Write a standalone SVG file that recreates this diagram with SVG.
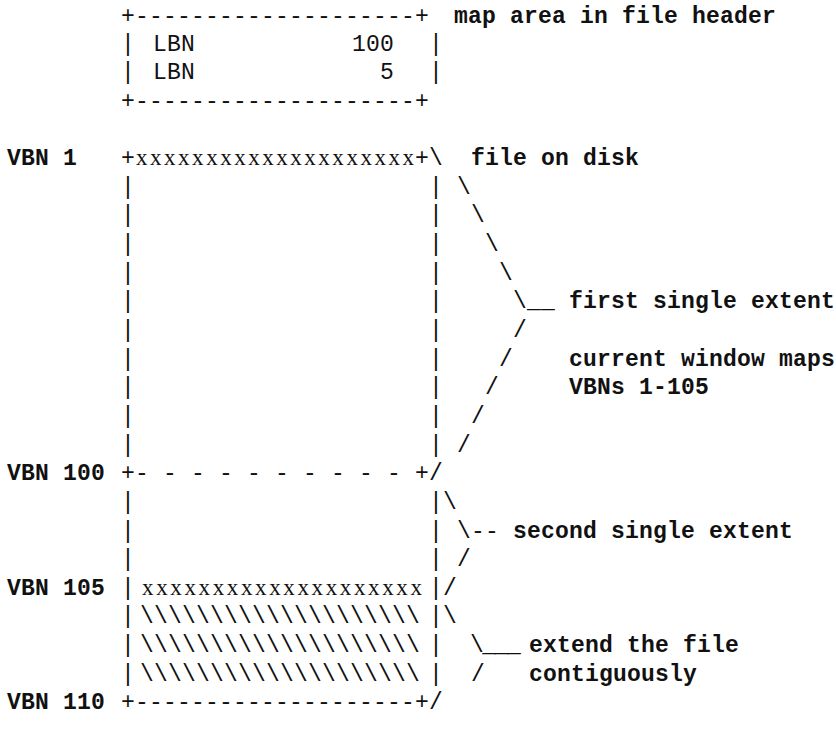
<svg xmlns="http://www.w3.org/2000/svg" width="836" height="748" viewBox="0 0 836 748">
<style>
text { font-family: "Liberation Mono", "DejaVu Sans Mono", monospace; font-size: 23px; letter-spacing: 0.2px; fill: #111; white-space: pre; }
.b { font-weight: bold; }
.xs { font-family: "Liberation Serif", "DejaVu Serif", serif; letter-spacing: 0; }
</style>
<rect width="836" height="748" fill="#fff"/>
<g id="map-area">
  <text x="121" y="22.5">+--------------------+</text>
  <text x="121" y="51">|</text><text x="153" y="51">LBN</text><text x="352" y="51">100</text><text x="429" y="51">|</text>
  <text x="121" y="79.1">|</text><text x="153" y="79.1">LBN</text><text x="380" y="79.1">5</text><text x="429" y="79.1">|</text>
  <text x="121" y="107.7">+--------------------+</text>
  <text class="b" x="454" y="22.5">map area in file header</text>
</g>
<g id="file-box">
  <text x="121" y="165">+</text><text class="xs" x="136" y="165" textLength="278" lengthAdjust="spacing">xxxxxxxxxxxxxxxxxxxx</text><text x="415" y="165">+</text>
  <text x="121" y="193.7">|</text><text x="429" y="193.7">|</text>
  <text x="121" y="222.3">|</text><text x="429" y="222.3">|</text>
  <text x="121" y="251">|</text><text x="429" y="251">|</text>
  <text x="121" y="279.6">|</text><text x="429" y="279.6">|</text>
  <text x="121" y="308.3">|</text><text x="429" y="308.3">|</text>
  <text x="121" y="336.9">|</text><text x="429" y="336.9">|</text>
  <text x="121" y="365.6">|</text><text x="429" y="365.6">|</text>
  <text x="121" y="394.2">|</text><text x="429" y="394.2">|</text>
  <text x="121" y="422.9">|</text><text x="429" y="422.9">|</text>
  <text x="121" y="451.5">|</text><text x="429" y="451.5">|</text>
  <text x="121" y="480.2">+- - - - - - - - - - +</text>
  <text x="121" y="508.8">|</text><text x="429" y="508.8">|</text>
  <text x="121" y="537.5">|</text><text x="429" y="537.5">|</text>
  <text x="121" y="566.1">|</text><text x="429" y="566.1">|</text>
  <text x="121" y="594.8">|</text><text class="xs" x="142" y="594.8" textLength="280" lengthAdjust="spacing">xxxxxxxxxxxxxxxxxxxx</text><text x="429" y="594.8">|</text>
  <text x="121" y="623.4">|</text><text x="140" y="623.4">\\\\\\\\\\\\\\\\\\\\</text><text x="429" y="623.4">|</text>
  <text x="121" y="652.1">|</text><text x="140" y="652.1">\\\\\\\\\\\\\\\\\\\\</text><text x="429" y="652.1">|</text>
  <text x="121" y="680.7">|</text><text x="140" y="680.7">\\\\\\\\\\\\\\\\\\\\</text><text x="429" y="680.7">|</text>
  <text x="121" y="709.4">+--------------------+</text>
</g>
<g id="vbn-labels">
  <text class="b" x="7" y="165">VBN 1</text>
  <text class="b" x="7" y="480.2">VBN 100</text>
  <text class="b" x="7" y="594.8">VBN 105</text>
  <text class="b" x="7" y="709.4">VBN 110</text>
</g>
<g id="connectors">
  <text x="429" y="165">\</text>
  <text x="457" y="193.7">\</text>
  <text x="471" y="222.3">\</text>
  <text x="485" y="251">\</text>
  <text x="499" y="279.6">\</text>
  <text x="513" y="308.3">\__</text>
  <text x="513" y="336.9">/</text>
  <text x="499" y="365.6">/</text>
  <text x="485" y="394.2">/</text>
  <text x="471" y="422.9">/</text>
  <text x="457" y="451.5">/</text>
  <text x="429" y="480.2">/</text>
  <text x="443" y="508.8">\</text>
  <text x="457" y="537.5">\--</text>
  <text x="457" y="566.1">/</text>
  <text x="443" y="594.8">/</text>
  <text x="443" y="623.4">\</text>
  <text x="470" y="652.1" style="letter-spacing:-1.5px">\___</text>
  <text x="471" y="680.7">/</text>
  <text x="429" y="709.4">/</text>
</g>
<g id="file-on-disk"><text class="b" x="471" y="165">file on disk</text></g>
<g id="first-extent"><text class="b" x="569" y="308.3">first single extent</text></g>
<g id="current-window"><text class="b" x="569" y="365.6">current window maps</text><text class="b" x="569" y="394.2">VBNs 1-105</text></g>
<g id="second-extent"><text class="b" x="513" y="537.5">second single extent</text></g>
<g id="extend-file"><text class="b" x="529" y="652.1">extend the file</text><text class="b" x="529" y="680.7">contiguously</text></g>
</svg>
